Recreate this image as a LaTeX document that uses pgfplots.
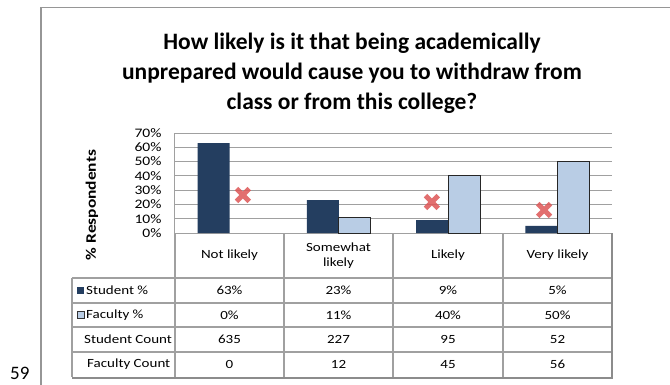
\documentclass[border=0pt]{standalone}
\usepackage{fontspec}
\setmainfont{Carlito}[FakeStretch=1.2]
\newfontfamily\titlefont{Carlito}
\usepackage{pgfplots}
\pgfplotsset{compat=1.18}
\definecolor{navy}{RGB}{36,62,96}
\definecolor{lightblue}{RGB}{185,205,229}
\definecolor{gridgray}{RGB}{160,160,160}
\definecolor{framegray}{RGB}{150,150,150}
\definecolor{xred}{RGB}{222,86,86}
\begin{document}
\begin{tikzpicture}[x=1pt,y=1pt]
\clip (0,0) rectangle (670,384);
\fill[white] (0,0) rectangle (670,384);
% outer frame and page number
\draw[framegray, line width=1.3pt] (41,-5) -- (41,376.5) -- (675,376.5);
\node[font=\titlefont\fontsize{19}{19}\selectfont, anchor=south west, inner sep=0pt] at (10,4) {59};
% title
\node[align=center, font=\titlefont\bfseries\fontsize{23.5}{30}\selectfont] at (352,311)
  {How likely is it that being academically\\unprepared would cause you to withdraw from\\class or from this college?};
\begin{axis}[
  at={(175pt,151pt)}, anchor=south west,
  scale only axis, width=437pt, height=100pt,
  xmin=0, xmax=4, ymin=0, ymax=70,
  xtick=\empty,
  ytick={0,10,...,70},
  yticklabel={\pgfmathprintnumber{\tick}\%},
  /pgf/number format/assume math mode=true,
  yticklabel style={font=\fontsize{13}{13}\selectfont, xshift=-10pt},
  ytick style={draw=none},
  ymajorgrids, grid style={gridgray, line width=1pt},
  axis x line*=bottom, axis y line*=left,
  axis line style={gridgray, line width=1pt, -},
  ylabel={\bfseries\% Respondents},
  ylabel style={font=\fontsize{14.5}{14.5}\selectfont, at={(axis description cs:-0.19,0.28)}, anchor=center},
  clip=false,
]
\addplot[ybar, bar width=32pt, bar shift=-16pt, fill=navy, draw=none]
  coordinates {(0.5,63) (1.5,23) (2.5,9) (3.5,5)};
\addplot[ybar, bar width=32pt, bar shift=16pt, fill=lightblue, draw=black!85, line width=1pt]
  coordinates {(1.5,11) (2.5,40) (3.5,50)};
\addplot[only marks, mark=x, mark size=9pt, line width=5pt, xred, opacity=0.85]
  coordinates {(0.622,26.6) (2.352,21.7) (3.378,16.1)};
\end{axis}
% data table
\begin{scope}[gridgray, line width=1.2pt]
\draw (175,151) -- (175,7);
\foreach \x in {284,393,503} \draw (\x,151) -- (\x,7);
\foreach \y in {106,81,57,32} \draw (72,\y) -- (612,\y);
\draw (72,106) -- (72,7);
\end{scope}
\draw[black!45, line width=2pt] (612,151) -- (612,6) -- (72,6);
\begin{scope}[font=\fontsize{12.5}{15}\selectfont]
\node at (229.5,128.5) {Not likely};
\node[align=center] at (338.5,128.5) {Somewhat\\likely};
\node at (448,128.5) {Likely};
\node at (557.5,128.5) {Very likely};
\fill[navy] (77,90) rectangle (84,97);
\filldraw[fill=lightblue, draw=black!80, line width=0.8pt] (77,65.5) rectangle (84,72.5);
\node[anchor=west, inner sep=0pt] at (86,93.5) {Student \%};
\node[anchor=west, inner sep=0pt] at (86,69) {Faculty \%};
\node[anchor=west, inner sep=0pt] at (84,44.5) {Student Count};
\node[anchor=west, inner sep=0pt] at (87,19.5) {Faculty Count};
\foreach \x/\a/\b/\c/\d in {229.5/63\%/0\%/635/0, 338.5/23\%/11\%/227/12, 448/9\%/40\%/95/45, 557.5/5\%/50\%/52/56} {
  \node at (\x,93.5) {\a};
  \node at (\x,69) {\b};
  \node at (\x,44.5) {\c};
  \node at (\x,19.5) {\d};
}
\end{scope}
\end{tikzpicture}
\end{document}
